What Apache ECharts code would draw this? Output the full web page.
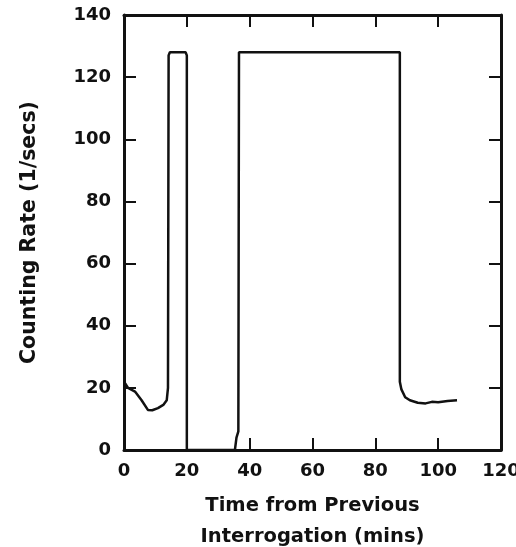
<!DOCTYPE html>
<html><head><meta charset="utf-8">
<script src="https://cdn.jsdelivr.net/npm/echarts@6/dist/echarts.min.js"></script>
<style>html,body{margin:0;padding:0;background:#fff;overflow:hidden}#c{width:516px;height:547px}</style>
</head><body><div id="c"></div>
<script>
const timeMins = [0, 1.3, 3.5, 5.6, 7.6, 9, 10.8, 12.5, 13.6, 14, 14.2, 14.6, 19.6, 20, 20, 35.3, 35.8, 36.4, 36.6, 87.8, 87.8, 88.3, 89.5, 91, 93.5, 96, 98, 100, 103, 106];
const countRate = [22, 20, 18.8, 16, 12.9, 12.8, 13.5, 14.5, 16, 20, 127, 128, 128, 127, 0, 0, 4, 6, 128, 128, 22, 19.5, 17, 16, 15.2, 15, 15.5, 15.4, 15.8, 16];
const xTicks = {min: 0, max: 120, interval: 20};
const yTicks = {min: 0, max: 140, interval: 20};
const xName = 'Time from Previous\nInterrogation (mins)';
const yName = 'Counting Rate (1/secs)';

const font = {fontFamily: 'DejaVu Sans', fontWeight: 'bold', color: '#111'};
const axisLine = {show: true, onZero: false, lineStyle: {color: '#111', width: 3}};
const tick = {show: true, inside: true, length: 12, lineStyle: {color: '#111', width: 2}};
const chart = echarts.init(document.getElementById('c'), null, {renderer: 'canvas'});
chart.setOption({
  animation: false,
  backgroundColor: '#fff',
  grid: {left: 124, right: 15, top: 15, bottom: 97, containLabel: false, outerBoundsMode: 'none'},
  xAxis: [
    {type: 'value', position: 'bottom', min: xTicks.min, max: xTicks.max, interval: xTicks.interval,
     axisLine, axisTick: tick, splitLine: {show: false},
     axisLabel: Object.assign({fontSize: 18, margin: 12}, font),
     name: xName, nameLocation: 'middle', nameGap: 40,
     nameTextStyle: Object.assign({fontSize: 19.5, lineHeight: 31, verticalAlign: 'top'}, font)},
    {type: 'value', position: 'top', min: xTicks.min, max: xTicks.max, interval: xTicks.interval,
     axisLine, axisTick: tick, splitLine: {show: false}, axisLabel: {show: false}}
  ],
  yAxis: [
    {type: 'value', position: 'left', min: yTicks.min, max: yTicks.max, interval: yTicks.interval,
     axisLine, axisTick: tick, splitLine: {show: false},
     axisLabel: Object.assign({fontSize: 18, margin: 13}, font),
     name: yName, nameLocation: 'middle', nameGap: 84, nameRotate: 90,
     nameTextStyle: Object.assign({fontSize: 20.5}, font)},
    {type: 'value', position: 'right', min: yTicks.min, max: yTicks.max, interval: yTicks.interval,
     axisLine, axisTick: tick, splitLine: {show: false}, axisLabel: {show: false}}
  ],
  series: [{
    type: 'line', xAxisIndex: 0, yAxisIndex: 0, showSymbol: false, symbol: 'none',
    lineStyle: {color: '#111', width: 2.5}, smooth: false,
    data: timeMins.map((t, i) => [t, countRate[i]])
  }]
});
</script></body></html>
